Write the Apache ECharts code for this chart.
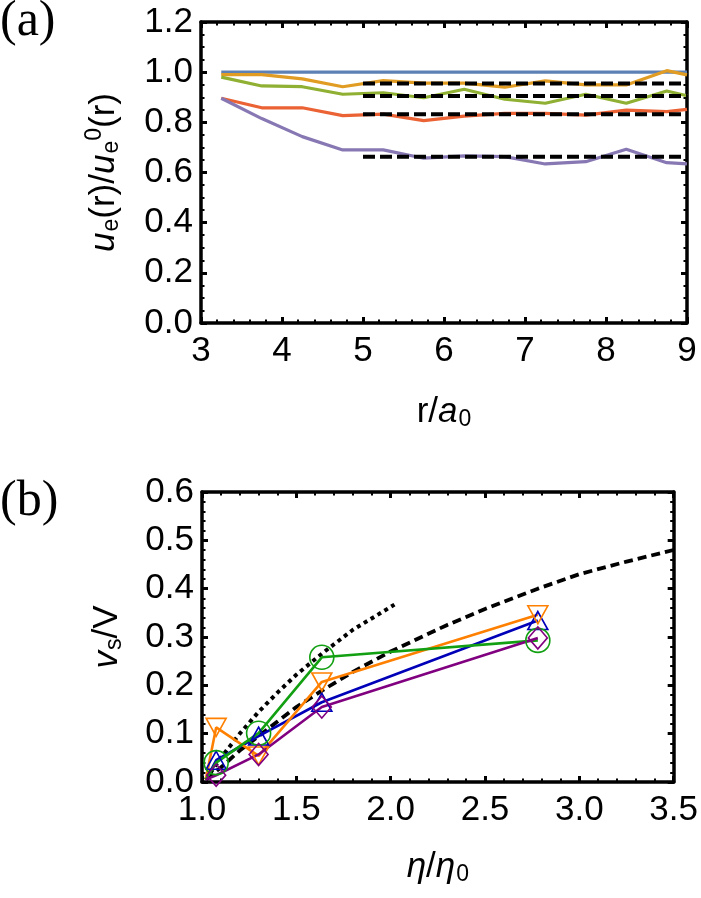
<!DOCTYPE html>
<html>
<head>
<meta charset="utf-8">
<script src="https://cdn.jsdelivr.net/npm/echarts@6/dist/echarts.min.js"></script>
<style>
  html, body { margin: 0; padding: 0; background: #fff; }
  #chart { width: 701px; height: 898px; }
</style>
</head>
<body>
<div id="chart"></div>
<script>
// ---- panel (a): u_e(r)/u_e^0(r) vs r/a0
var rVals      = [3.25, 3.75, 4.25, 4.75, 5.25, 5.75, 6.25, 6.75, 7.25, 7.75, 8.25, 8.75, 9.0];
var ueBlue     = [1.0, 1.0, 1.0, 1.0, 1.0, 1.0, 1.0, 1.0, 1.0, 1.0, 1.0, 1.0, 1.0];
var ueOrange   = [0.99, 0.99, 0.973, 0.942, 0.966, 0.956, 0.956, 0.94, 0.965, 0.949, 0.949, 1.006, 0.989];
var ueGreen    = [0.98, 0.945, 0.942, 0.912, 0.918, 0.898, 0.932, 0.892, 0.876, 0.912, 0.876, 0.925, 0.906];
var ueRed      = [0.896, 0.858, 0.858, 0.827, 0.833, 0.807, 0.825, 0.836, 0.836, 0.829, 0.849, 0.843, 0.852];
var uePurple   = [0.896, 0.815, 0.743, 0.69, 0.69, 0.657, 0.666, 0.663, 0.634, 0.643, 0.693, 0.639, 0.634];
var plateauR   = [5.0, 9.0];
var plateaus   = [0.955, 0.905, 0.832, 0.663];

// ---- panel (b): v_s/V vs eta/eta0
var etaPts     = [1.02, 1.075, 1.30, 1.635, 2.78];
var vsBlue     = [0.005, 0.045, 0.095, 0.165, 0.334];
var vsGreen    = [0.005, 0.040, 0.101, 0.258, 0.293];
var vsOrange   = [0.005, 0.113, 0.054, 0.207, 0.346];
var vsPurple   = [0.005, 0.014, 0.057, 0.155, 0.298];
var etaDash    = [1.02, 1.1, 1.2, 1.3, 1.4, 1.5, 1.64, 1.8, 2.0, 2.3, 2.5, 2.78, 3.0, 3.25, 3.5];
var vsDash     = [0.005, 0.03, 0.065, 0.095, 0.125, 0.155, 0.19, 0.228, 0.27, 0.325, 0.358, 0.40, 0.43, 0.456, 0.48];
var etaDot     = [1.02, 1.1, 1.2, 1.3, 1.4, 1.5, 1.64, 1.8, 2.02];
var vsDot      = [0.005, 0.05, 0.1, 0.145, 0.185, 0.222, 0.267, 0.315, 0.367];

var SANS = 'Liberation Sans';
var FS = 35;

function pairs(xs, ys) {
  return xs.map(function (x, i) { return [x, ys[i]]; });
}
// first point sits on the origin and carries no marker
function markedPairs(xs, ys) {
  return xs.map(function (x, i) {
    return i === 0 ? { value: [x, ys[i]], symbol: 'none' } : [x, ys[i]];
  });
}

function axis(kind, grid, pos, min, max, step, minorSplit, digits, showLabel) {
  return {
    type: 'value', gridIndex: grid, position: pos,
    min: min, max: max, interval: step,
    axisLine: { show: true, onZero: false, lineStyle: { color: '#000', width: 3.5 } },
    axisTick: { show: true, inside: true, length: 6, lineStyle: { color: '#000', width: 3 } },
    minorTick: { show: true, splitNumber: minorSplit, length: 3.5, lineStyle: { color: '#000', width: 2 } },
    splitLine: { show: false },
    minorSplitLine: { show: false },
    axisLabel: {
      show: showLabel, color: '#000', fontFamily: SANS, fontSize: FS,
      margin: kind === 'x' ? 11 : 8,
      formatter: function (v) { return v.toFixed(digits); }
    }
  };
}

var richStyle = {
  i:   { fontFamily: SANS, fontSize: FS, fontStyle: 'italic', color: '#000' },
  n:   { fontFamily: SANS, fontSize: FS, color: '#000' },
  sub: { fontFamily: SANS, fontSize: 23, color: '#000', padding: [15, 0, 0, 1] },
  sup: { fontFamily: SANS, fontSize: 23, color: '#000', padding: [0, 0, 19, 0] }
};

var xA = axis('x', 0, 'bottom', 3, 9, 1, 5, 0, true);
xA.name = '{n|r/}{i|a}{sub|0}';
xA.nameLocation = 'middle';
xA.nameGap = 70;
xA.nameTextStyle = { rich: richStyle };

var yA = axis('y', 0, 'left', 0, 1.2, 0.2, 4, 1, true);
yA.name = '{i|u}{sub|e}{n|(r)/}{i|u}{sub|e}{sup|0}{n|(r)}';
yA.nameLocation = 'middle';
yA.nameGap = 76;
yA.nameRotate = 90;
yA.nameTextStyle = { rich: richStyle };

var xB = axis('x', 1, 'bottom', 1, 3.5, 0.5, 5, 1, true);
xB.name = '{i|η}{n|/}{i|η}{sub|0}';
xB.nameLocation = 'middle';
xB.nameGap = 66;
xB.nameTextStyle = { rich: richStyle };

var yB = axis('y', 1, 'left', 0, 0.6, 0.1, 5, 1, true);
yB.name = '{i|v}{sub|s}{n|/V}';
yB.nameLocation = 'middle';
yB.nameGap = 76;
yB.nameRotate = 90;
yB.nameTextStyle = { rich: richStyle };

var topColors = ['#5E81B5', '#E19C24', '#8FB032', '#EB6235', '#8778B3'];
var topSets = [ueBlue, ueOrange, ueGreen, ueRed, uePurple];

var series = [];
topSets.forEach(function (ys, k) {
  series.push({
    type: 'line', xAxisIndex: 0, yAxisIndex: 0, symbol: 'none',
    data: pairs(rVals, ys),
    lineStyle: { color: topColors[k], width: 3.2 }, z: 2
  });
});
plateaus.forEach(function (lvl) {
  series.push({
    type: 'line', xAxisIndex: 0, yAxisIndex: 0, symbol: 'none',
    data: pairs(plateauR, [lvl, lvl]),
    lineStyle: { color: '#000', width: 4, type: [12, 5] }, z: 3
  });
});

// panel (b) reference curves
series.push({
  type: 'line', xAxisIndex: 2, yAxisIndex: 2, symbol: 'none',
  data: pairs(etaDash, vsDash),
  lineStyle: { color: '#000', width: 3.8, type: [9, 5], join: 'round' }, z: 2
});
series.push({
  type: 'line', xAxisIndex: 2, yAxisIndex: 2, symbol: 'none',
  data: pairs(etaDot, vsDot),
  lineStyle: { color: '#000', width: 4, type: [4, 4] }, z: 2
});

var botSets = [
  { ys: vsBlue,   color: '#0000B8', symbol: 'triangle', size: [20, 18], rot: 0 },
  { ys: vsOrange, color: '#FF8000', symbol: 'triangle', size: [20, 18], rot: 180 },
  { ys: vsGreen,  color: '#12A012', symbol: 'circle',   size: 24,       rot: 0 },
  { ys: vsPurple, color: '#800080', symbol: 'diamond',  size: [19, 22], rot: 0 }
];
botSets.forEach(function (s) {
  series.push({
    type: 'line', xAxisIndex: 2, yAxisIndex: 2,
    symbol: s.symbol, symbolSize: s.size, symbolRotate: s.rot, showAllSymbol: true,
    data: markedPairs(etaPts, s.ys),
    lineStyle: { color: s.color, width: 2.6 },
    itemStyle: { color: 'rgba(0,0,0,0)', borderColor: s.color, borderWidth: 1.6 },
    z: 4
  });
});

var chart = echarts.init(document.getElementById('chart'), null, { renderer: 'canvas' });
chart.setOption({
  animation: false,
  backgroundColor: '#fff',
  grid: [
    { left: 201, top: 22, width: 486, height: 301 },
    { left: 202, top: 492, width: 475, height: 290 }
  ],
  xAxis: [
    xA,
    axis('x', 0, 'top', 3, 9, 1, 5, 0, false),
    xB,
    axis('x', 1, 'top', 1, 3.5, 0.5, 5, 1, false)
  ],
  yAxis: [
    yA,
    axis('y', 0, 'right', 0, 1.2, 0.2, 4, 1, false),
    yB,
    axis('y', 1, 'right', 0, 0.6, 0.1, 5, 1, false)
  ],
  graphic: [
    { type: 'text', left: 0, top: -3, style: { text: '(a)', font: '50px "Liberation Serif"', fill: '#000' } },
    { type: 'text', left: 0, top: 477, style: { text: '(b)', font: '50px "Liberation Serif"', fill: '#000' } }
  ],
  series: series
});
</script>
</body>
</html>
